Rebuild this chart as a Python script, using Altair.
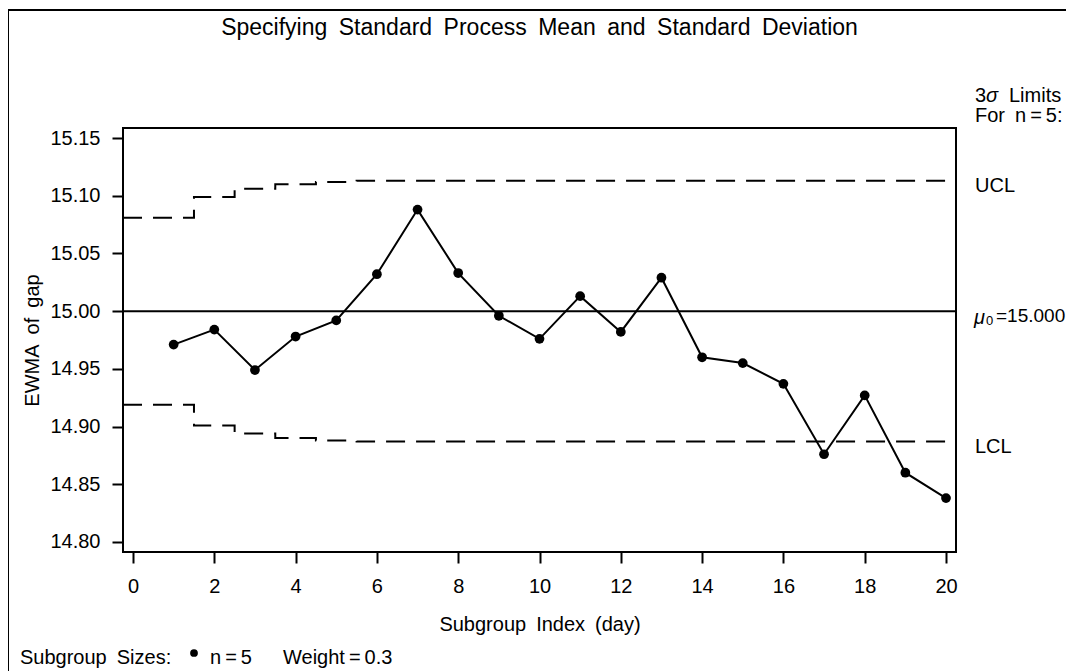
import altair as alt
import pandas as pd

# ---- data ----
subgroup = list(range(1, 21))
ewma = [14.971, 14.984, 14.949, 14.978, 14.992, 15.032, 15.088, 15.033, 14.996, 14.976,
        15.013, 14.982, 15.029, 14.960, 14.955, 14.937, 14.876, 14.927, 14.860, 14.838]
ucl = [15.081, 15.099, 15.106, 15.110, 15.112, 15.113, 15.113, 15.113, 15.113, 15.113,
       15.113, 15.113, 15.113, 15.113, 15.113, 15.113, 15.113, 15.113, 15.113, 15.113]
lcl = [14.919, 14.901, 14.894, 14.890, 14.888, 14.887, 14.887, 14.887, 14.887, 14.887,
       14.887, 14.887, 14.887, 14.887, 14.887, 14.887, 14.887, 14.887, 14.887, 14.887]
mean0 = 15.0
x_ticks = [0, 2, 4, 6, 8, 10, 12, 14, 16, 18, 20]
y_ticks = [14.80, 14.85, 14.90, 14.95, 15.00, 15.05, 15.10, 15.15]

X_DOMAIN = [-0.246, 20.246]
Y_DOMAIN = [14.7913, 15.1587]
W, H = 833, 424
FONT = "Liberation Sans"
FS = 20
SP = "\u2002"   # wide word space, as in the reference
TS = "\u2009"   # thin space round '='

xs = alt.Scale(domain=X_DOMAIN, nice=False, zero=False)
ys = alt.Scale(domain=Y_DOMAIN, nice=False, zero=False)

pts = pd.DataFrame({"i": subgroup, "v": ewma})

lim_x = [X_DOMAIN[0]] + subgroup + [X_DOMAIN[1]]
lim = pd.DataFrame({
    "i": lim_x * 2,
    "v": [ucl[0]] + ucl + [ucl[-1]] + [lcl[0]] + lcl + [lcl[-1]],
    "which": ["UCL"] * len(lim_x) + ["LCL"] * len(lim_x),
})

x_enc = alt.X("i:Q", scale=xs, axis=alt.Axis(
    values=x_ticks, title=f"Subgroup{SP}Index{SP}(day)", grid=False, domain=False,
    tickSize=11, tickWidth=2, tickColor="black", labelPadding=13,
    labelFontSize=FS, labelFont=FONT, labelColor="black",
    titleFontSize=FS, titleFont=FONT, titleFontWeight="normal", titleColor="black",
    titleX=W / 2, titleY=72, titleBaseline="middle"))
y_enc = alt.Y("v:Q", scale=ys, axis=alt.Axis(
    values=y_ticks, format=".2f", title=f"EWMA{SP}of{SP}gap", grid=False, domain=False,
    tickSize=11, tickWidth=2, tickColor="black", labelPadding=12,
    labelFontSize=FS, labelFont=FONT, labelColor="black",
    titleFontSize=FS, titleFont=FONT, titleFontWeight="normal", titleColor="black",
    titleX=-91, titleY=H / 2, titleAngle=-90, titleBaseline="middle", titleAlign="center"))

limits = alt.Chart(lim).mark_line(
    interpolate="step", color="black", strokeWidth=2, strokeDash=[19, 11]
).encode(x=x_enc, y=y_enc, detail="which:N")

center = alt.Chart(pd.DataFrame({"v": [mean0]})).mark_rule(
    color="black", strokeWidth=2).encode(y=alt.Y("v:Q", scale=ys))

line = alt.Chart(pts).mark_line(color="black", strokeWidth=2).encode(
    x=alt.X("i:Q", scale=xs), y=alt.Y("v:Q", scale=ys))
dots = alt.Chart(pts).mark_circle(color="black", opacity=1, size=95).encode(
    x=alt.X("i:Q", scale=xs), y=alt.Y("v:Q", scale=ys))


def ylab(s, v, x, size=FS, dy=5, style="normal"):
    return alt.Chart(pd.DataFrame({"t": [s], "v": [v]})).mark_text(
        align="left", baseline="middle", dy=dy, font=FONT, fontSize=size,
        fontStyle=style, color="black"
    ).encode(x=alt.value(x), y=alt.Y("v:Q", scale=ys), text="t:N")


ucl_lab = ylab("UCL", ucl[-1], W + 19)
lcl_lab = ylab("LCL", lcl[-1], W + 19)
mu_lab = ylab("\u03bc", mean0, W + 18, style="italic", dy=7)
mu_sub = ylab("0", mean0, W + 30, size=13, dy=10)
mu_val = ylab(f"={mean0:.3f}", mean0, W + 40, size=19)


def txt(s, x, y, align="left", size=FS, baseline="middle", style="normal"):
    return alt.Chart(pd.DataFrame({"t": [s]})).mark_text(
        align=align, baseline=baseline, font=FONT, fontSize=size,
        fontStyle=style, color="black"
    ).encode(x=alt.value(x), y=alt.value(y), text="t:N")


title = txt(SP.join(["Specifying", "Standard", "Process", "Mean", "and", "Standard", "Deviation"]),
            W / 2, -93, align="center", size=23, baseline="alphabetic")
hdr1a = txt("3", W + 19, -32)
hdr1b = txt("\u03c3", W + 30, -32, style="italic")
hdr1c = txt("Limits", W + 53, -32)
hdr2 = txt(f"For{SP}n{TS}={TS}5:", W + 19, -12)
leg1 = txt(f"Subgroup{SP}Sizes:", -103, 536, baseline="alphabetic")
leg2 = txt(f"n{TS}={TS}5", 87, 536, baseline="alphabetic")
leg3 = txt(f"Weight{TS}={TS}0.3", 160, 536, baseline="alphabetic")
leg_dot = alt.Chart(pd.DataFrame({"k": [1]})).mark_circle(
    color="black", opacity=1, size=60).encode(x=alt.value(71), y=alt.value(525))

border = alt.Chart(pd.DataFrame({"k": [1]}))
bl = border.mark_rule(color="black", strokeWidth=2).encode(
    x=alt.value(-115), y=alt.value(-118), y2=alt.value(560))
bt = border.mark_rule(color="black", strokeWidth=2).encode(
    x=alt.value(-116), x2=alt.value(W + 130), y=alt.value(-118))

chart = alt.layer(
    limits, center, line, dots, ucl_lab, lcl_lab, mu_lab, mu_sub, mu_val,
    title, hdr1a, hdr1b, hdr1c, hdr2, leg1, leg_dot, leg2, leg3, bl, bt
).properties(
    width=W, height=H,
    background="white",
    autosize=alt.AutoSizeParams(type="none"),
    padding={"left": 115, "top": 120, "right": 110, "bottom": 119},
).configure_view(stroke="black", strokeWidth=2)

chart.save("out.html", embed_options={"renderer": "svg", "actions": False})
